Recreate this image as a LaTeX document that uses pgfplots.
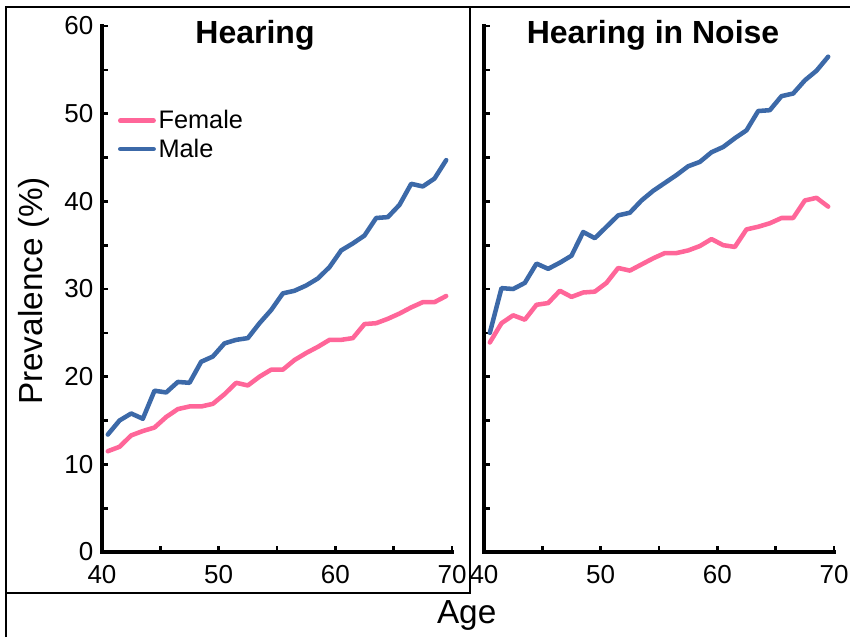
\documentclass[border=0pt]{standalone}
\usepackage{fontspec}
\setmainfont{Liberation Sans}
\usepackage{pgfplots}
\pgfplotsset{compat=1.18}

\definecolor{fem}{RGB}{255,102,153}
\definecolor{mal}{RGB}{60,105,168}

\pgfplotsset{
  panel/.style={
    scale only axis,
    width=262.5pt, height=394.5pt,
    xmin=40, xmax=70, ymin=0, ymax=60,
    axis lines*=left,
    axis line style={line width=2.6pt, line cap=rect},
    tick align=inside,
    major tick length=4.5pt, minor tick length=4.5pt,
    tick style={line width=2pt, black},
    xtick={40,50,60,70}, minor xtick={45,55,65},
    ytick={0,10,...,60}, minor ytick={5,15,...,55},
    tick label style={font=\fontsize{19.5}{22}\selectfont},
    /pgf/number format/assume math mode=true,
    xticklabel style={yshift=-6.5pt},
    yticklabel style={xshift=-3pt},
    clip=false,
  },
  sex/.style={line width=3.4pt, line join=round, line cap=round},
}

\begin{document}
\begin{tikzpicture}
\useasboundingbox (0,0) rectangle (637.5pt,477.75pt);

% frame lines
\draw[line width=1.5pt] (4.5pt,0) -- (4.5pt,472.5pt) -- (637.5pt,472.5pt);
\draw[line width=1.5pt] (352.5pt,472.5pt) -- (352.5pt,33pt) -- (4.5pt,33pt);

% Hearing
\begin{axis}[panel,
    at={(76.5pt,63.75pt)}, anchor=south west,
    legend style={at={(0.045,0.845)}, anchor=north west, draw=none, fill=none,
      inner sep=0pt, row sep=2pt, font=\fontsize{19}{23}\selectfont},
    legend cell align=left,
    legend image code/.code={\draw[#1] (0pt,0pt) -- (25pt,0pt);}
  ]
  \addplot[sex, fem] coordinates {
    (40.5,11.5) (41.5,12.0) (42.5,13.3) (43.5,13.8) (44.5,14.2)
    (45.5,15.4) (46.5,16.3) (47.5,16.6) (48.5,16.6) (49.5,16.9)
    (50.5,18.0) (51.5,19.3) (52.5,19.0) (53.5,20.0) (54.5,20.8)
    (55.5,20.8) (56.5,21.9) (57.5,22.7) (58.5,23.4) (59.5,24.2)
    (60.5,24.2) (61.5,24.4) (62.5,26.0) (63.5,26.1) (64.5,26.6)
    (65.5,27.2) (66.5,27.9) (67.5,28.5) (68.5,28.5) (69.5,29.2)
  };
  \addplot[sex, mal] coordinates {
    (40.5,13.4) (41.5,15.0) (42.5,15.8) (43.5,15.2) (44.5,18.4)
    (45.5,18.2) (46.5,19.4) (47.5,19.3) (48.5,21.7) (49.5,22.3)
    (50.5,23.8) (51.5,24.2) (52.5,24.4) (53.5,26.1) (54.5,27.6)
    (55.5,29.5) (56.5,29.8) (57.5,30.4) (58.5,31.2) (59.5,32.5)
    (60.5,34.4) (61.5,35.2) (62.5,36.1) (63.5,38.1) (64.5,38.2)
    (65.5,39.6) (66.5,42.0) (67.5,41.7) (68.5,42.6) (69.5,44.7)
  };
  \legend{Female, Male}
\end{axis}

% Hearing in Noise
\begin{axis}[panel,
    at={(363pt,63.75pt)}, anchor=south west,
    yticklabels={}
  ]
  \addplot[sex, fem] coordinates {
    (40.5,23.9) (41.5,26.1) (42.5,27.0) (43.5,26.5) (44.5,28.2)
    (45.5,28.4) (46.5,29.8) (47.5,29.1) (48.5,29.6) (49.5,29.7)
    (50.5,30.7) (51.5,32.4) (52.5,32.1) (53.5,32.8) (54.5,33.5)
    (55.5,34.1) (56.5,34.1) (57.5,34.4) (58.5,34.9) (59.5,35.7)
    (60.5,35.0) (61.5,34.8) (62.5,36.8) (63.5,37.1) (64.5,37.5)
    (65.5,38.1) (66.5,38.1) (67.5,40.1) (68.5,40.4) (69.5,39.4)
  };
  \addplot[sex, mal] coordinates {
    (40.5,25.0) (41.5,30.1) (42.5,30.0) (43.5,30.7) (44.5,32.9)
    (45.5,32.3) (46.5,33.0) (47.5,33.8) (48.5,36.5) (49.5,35.8)
    (50.5,37.1) (51.5,38.4) (52.5,38.7) (53.5,40.1) (54.5,41.2)
    (55.5,42.1) (56.5,43.0) (57.5,44.0) (58.5,44.5) (59.5,45.6)
    (60.5,46.2) (61.5,47.2) (62.5,48.1) (63.5,50.3) (64.5,50.4)
    (65.5,52.0) (66.5,52.3) (67.5,53.8) (68.5,54.9) (69.5,56.5)
  };
\end{axis}

\node[anchor=base, font=\fontsize{24}{28}\selectfont\bfseries] at (191.25pt,444.75pt) {Hearing};
\node[anchor=base, font=\fontsize{24}{28}\selectfont\bfseries] at (489.75pt,444.75pt) {Hearing in Noise};
\node[anchor=base, rotate=90, font=\fontsize{25}{30}\selectfont] at (31.5pt,259.5pt) {Prevalence (\%)};
\node[anchor=base, font=\fontsize{25}{30}\selectfont] at (350pt,10.5pt) {Age};
\end{tikzpicture}
\end{document}
